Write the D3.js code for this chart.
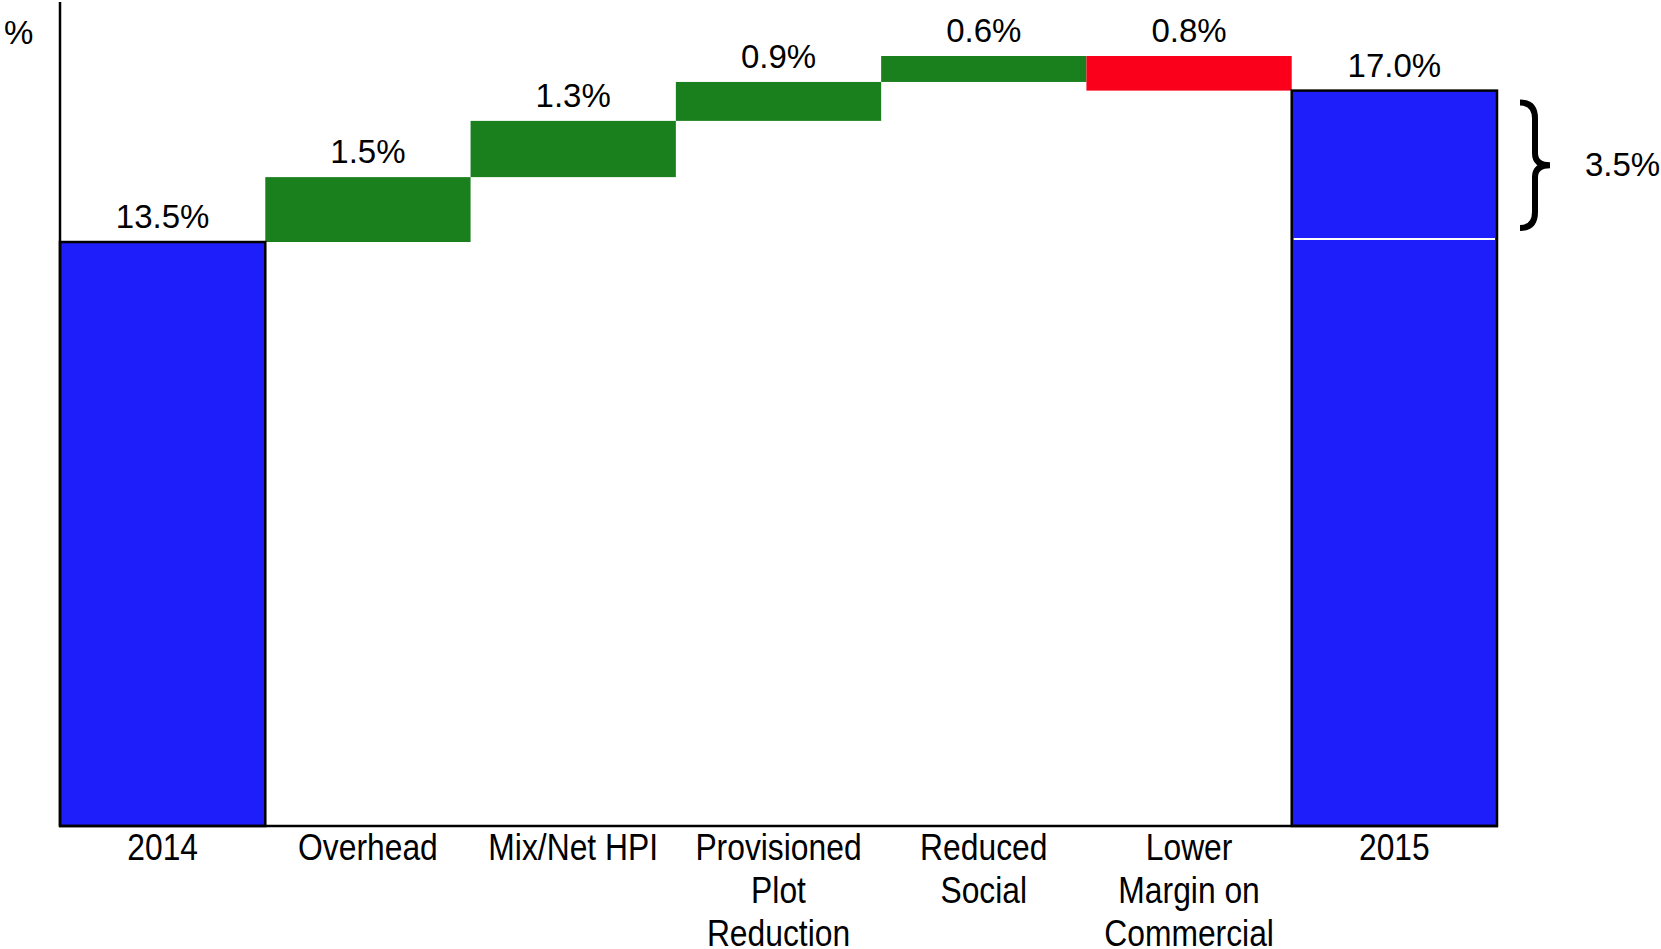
<!DOCTYPE html>
<html>
<head>
<meta charset="utf-8">
<script src="https://cdn.jsdelivr.net/npm/d3@7"></script>
<style>
  body { margin: 0; background: #fff; }
  .val { font-family: "Liberation Sans", Arial, sans-serif; font-size: 33px; fill: #000; }
  .cat { font-family: "Liberation Sans", Arial, sans-serif; font-size: 37px; fill: #000; }
</style>
</head>
<body>
<div id="chart"></div>
<script>
// chart data
const categories = ["2014", "Overhead", "Mix/Net HPI", "Provisioned Plot Reduction", "Reduced Social", "Lower Margin on Commercial", "2015"];
const categoryLines = [["2014"], ["Overhead"], ["Mix/Net HPI"], ["Provisioned", "Plot", "Reduction"], ["Reduced", "Social"], ["Lower", "Margin on", "Commercial"], ["2015"]];
const values = [13.5, 1.5, 1.3, 0.9, 0.6, -0.8, 17.0];
const kinds = ["total", "delta", "delta", "delta", "delta", "delta", "total"];
const axisLabel = "%";

const width = 1661, height = 949;

const svg = d3.select("#chart")
    .append("svg")
    .attr("width", width)
    .attr("height", height);

// work out start / end of each step
let running = 0;
const steps = values.map((v, i) => {
    let start, end;
    if (kinds[i] == "total") { start = 0; end = v; running = v; }
    else { start = running; end = running + v; running = end; }
    return { cat: categories[i], lines: categoryLines[i], value: v, kind: kinds[i], start: start, end: end };
});

const yMax = d3.max(steps, d => Math.max(d.start, d.end));

const x = d3.scaleBand()
    .domain(categories)
    .range([60, 1497])
    .padding(0);

const y = d3.scaleLinear()
    .domain([0, yMax])
    .range([826, 56]);

const color = d => d.kind == "total" ? "#1e1efa" : (d.value >= 0 ? "#1a801e" : "#fa001b");

const fmt = d3.format(".1f");

// floating bars first
svg.selectAll(".step")
    .data(steps.filter(d => d.kind == "delta"))
    .enter()
    .append("rect")
    .attr("class", "step")
    .attr("x", d => x(d.cat))
    .attr("width", x.bandwidth())
    .attr("y", d => y(Math.max(d.start, d.end)))
    .attr("height", d => Math.abs(y(d.start) - y(d.end)))
    .style("fill", color);

// totals on top, with black outline
svg.selectAll(".total")
    .data(steps.filter(d => d.kind == "total"))
    .enter()
    .append("rect")
    .attr("class", "total")
    .attr("x", d => x(d.cat))
    .attr("width", x.bandwidth())
    .attr("y", d => y(d.end))
    .attr("height", d => y(0) - y(d.end))
    .style("fill", color)
    .style("stroke", "#000")
    .style("stroke-width", 2.5);

// white marker of the 2014 level inside the 2015 bar
const first = steps[0], last = steps[steps.length - 1];
svg.append("line")
    .attr("x1", x(last.cat) + 2)
    .attr("x2", x(last.cat) + x.bandwidth() - 2)
    .attr("y1", y(first.end) - 3)
    .attr("y2", y(first.end) - 3)
    .style("stroke", "#fff")
    .style("stroke-width", 2);

// axis lines
svg.append("line")
    .attr("x1", 60).attr("x2", 60)
    .attr("y1", 2).attr("y2", y(0))
    .style("stroke", "#000").style("stroke-width", 2.5);
svg.append("line")
    .attr("x1", 59).attr("x2", x(last.cat) + x.bandwidth() + 1)
    .attr("y1", y(0)).attr("y2", y(0))
    .style("stroke", "#000").style("stroke-width", 2.5);

svg.append("text")
    .attr("class", "val")
    .attr("x", 4)
    .attr("y", 44)
    .text(axisLabel);

// value labels
svg.selectAll(".vlab")
    .data(steps)
    .enter()
    .append("text")
    .attr("class", "val")
    .attr("text-anchor", "middle")
    .attr("x", d => x(d.cat) + x.bandwidth() / 2)
    .attr("y", d => y(Math.max(d.start, d.end)) - 14)
    .text(d => fmt(Math.abs(d.value)) + "%");

// category labels, squeezed to look condensed
const catText = svg.selectAll(".cat")
    .data(steps)
    .enter()
    .append("text")
    .attr("class", "cat")
    .attr("text-anchor", "middle")
    .attr("transform", d => `translate(${x(d.cat) + x.bandwidth() / 2},860) scale(0.86,1)`);

catText.selectAll("tspan")
    .data(d => d.lines)
    .enter()
    .append("tspan")
    .attr("x", 0)
    .attr("dy", (d, i) => i == 0 ? 0 : 43)
    .text(d => d);

// brace showing the change between the totals
const bx0 = x(last.cat) + x.bandwidth() + 23,
    bxm = bx0 + 15,
    bx2 = bx0 + 30;
const by0 = y(last.end) + 12,
    by1 = y(first.end) - 14;
const bym = (by0 + by1) / 2;

const brace = d3.path();
brace.moveTo(bx0, by0);
brace.quadraticCurveTo(bxm, by0, bxm, by0 + 16);
brace.lineTo(bxm, bym - 12);
brace.quadraticCurveTo(bxm, bym, bx2, bym);
brace.quadraticCurveTo(bxm, bym, bxm, bym + 12);
brace.lineTo(bxm, by1 - 16);
brace.quadraticCurveTo(bxm, by1, bx0, by1);

svg.append("path")
    .attr("d", brace.toString())
    .style("fill", "none")
    .style("stroke", "#000")
    .style("stroke-width", 6);

svg.append("text")
    .attr("class", "val")
    .attr("x", bx2 + 35)
    .attr("y", bym + 11)
    .text(fmt(last.end - first.end) + "%");
</script>
</body>
</html>
